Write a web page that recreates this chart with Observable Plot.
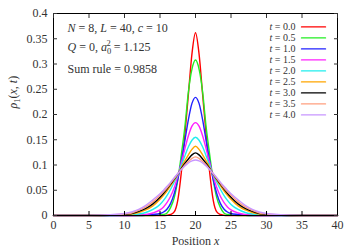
<!DOCTYPE html>
<html><head><meta charset="utf-8">
<script src="https://cdn.jsdelivr.net/npm/d3@7"></script>
<script src="https://cdn.jsdelivr.net/npm/@observablehq/plot@0.6"></script>
<style>body{margin:0;background:#fff}svg{display:block}</style>
</head><body><div id="chart"></div>
<script>
// Position grid (x) shared by all curves
const xs = [0,5,8,10,11,12,13,14,15,15.5,16,16.5,17,17.5,18,18.5,19,19.5,20,20.5,21,21.5,22,22.5,23,23.5,24,24.5,25,26,27,28,29,30,32,35,40];
// rho_1(x,t) for each time
const rho_t00 = [0,0,0,0,0,0,0,0,0,0,0.0005,0.002,0.007,0.03,0.085,0.16,0.24,0.32,0.362,0.32,0.24,0.16,0.085,0.03,0.007,0.002,0.0005,0,0,0,0,0,0,0,0,0,0];
const rho_t05 = [0,0,0,0,0,0,0,0,0.0008,0.002,0.005,0.016,0.035,0.07,0.12,0.175,0.245,0.29,0.308,0.29,0.245,0.175,0.12,0.07,0.035,0.016,0.005,0.002,0.0008,0,0,0,0,0,0,0,0];
const rho_t10 = [0,0,0,0,0,0,0.0005,0.002,0.004,0.007,0.013,0.024,0.043,0.071,0.107,0.148,0.19,0.222,0.234,0.222,0.19,0.148,0.107,0.071,0.043,0.024,0.013,0.007,0.004,0.002,0.0005,0,0,0,0,0,0];
const rho_t15 = [0,0,0,0,0,0.0005,0.002,0.005,0.011,0.017,0.026,0.038,0.055,0.078,0.104,0.132,0.158,0.177,0.184,0.177,0.158,0.132,0.104,0.078,0.055,0.038,0.026,0.017,0.011,0.005,0.002,0.0005,0,0,0,0,0];
const rho_t20 = [0,0,0,0.0003,0.001,0.003,0.006,0.012,0.022,0.03,0.04,0.052,0.066,0.08,0.099,0.118,0.136,0.149,0.155,0.149,0.136,0.118,0.099,0.08,0.066,0.052,0.04,0.03,0.022,0.012,0.006,0.003,0.001,0.0003,0,0,0];
const rho_t25 = [0,0,0.0003,0.001,0.003,0.006,0.011,0.019,0.032,0.04,0.049,0.059,0.07,0.082,0.095,0.108,0.12,0.131,0.137,0.131,0.12,0.108,0.095,0.082,0.07,0.059,0.049,0.04,0.032,0.019,0.011,0.006,0.003,0.001,0.0003,0,0];
const rho_t30 = [0,0,0.0006,0.002,0.004,0.008,0.014,0.023,0.036,0.044,0.053,0.062,0.072,0.082,0.093,0.103,0.112,0.12,0.124,0.12,0.112,0.103,0.093,0.082,0.072,0.062,0.053,0.044,0.036,0.023,0.014,0.008,0.004,0.002,0.0006,0,0];
const rho_t35 = [0,0,0.001,0.003,0.005,0.01,0.017,0.027,0.04,0.047,0.055,0.064,0.073,0.082,0.091,0.1,0.107,0.113,0.116,0.113,0.107,0.1,0.091,0.082,0.073,0.064,0.055,0.047,0.04,0.027,0.017,0.01,0.005,0.003,0.001,0,0];
const rho_t40 = [0,0.0001,0.0015,0.004,0.007,0.012,0.02,0.031,0.043,0.05,0.058,0.066,0.075,0.083,0.091,0.098,0.104,0.108,0.11,0.108,0.104,0.098,0.091,0.083,0.075,0.066,0.058,0.05,0.043,0.031,0.02,0.012,0.007,0.004,0.0015,0.0001,0];

const tValues = ["0.0","0.5","1.0","1.5","2.0","2.5","3.0","3.5","4.0"];
const seriesColors = ["#ff0000","#22ee22","#2020ff","#ff20ff","#20eeee","#ffa500","#000000","#ff9f7f","#c896ff"];
const xTicks = [0,5,10,15,20,25,30,35,40];
const yTicks = [0,0.05,0.1,0.15,0.2,0.25,0.3,0.35,0.4];
const annotationLines = ["N = 8, L = 40, c = 10", "Q = 0, a0^2 = 1.125", "Sum rule = 0.9858"];
const xLabel = "Position x";
const yLabel = "rho1(x, t)";

const allSeries = [rho_t00,rho_t05,rho_t10,rho_t15,rho_t20,rho_t25,rho_t30,rho_t35,rho_t40];

const it = s => `<tspan font-style="italic">${s}</tspan>`;
const rich = {
  [annotationLines[0]]: `${it("N")} = 8, ${it("L")} = 40, ${it("c")} = 10`,
  [annotationLines[1]]: `${it("Q")} = 0, ${it("a")}<tspan font-size="8.5" dy="3">0</tspan><tspan font-size="8.5" dx="-4.8" dy="-8.5">2</tspan><tspan dy="5.5"> = 1.125</tspan>`,
  [xLabel]: `Position ${it("x")}`,
  [yLabel]: `${it("ρ")}<tspan font-size="8.5" dy="2.5">1</tspan><tspan dy="-2.5">(</tspan>${it("x")}, ${it("t")})`
};
tValues.forEach(t => { rich["t = " + t] = `${it("t")} = ${t}`; });

const fmtY = d => String(+d.toFixed(2));
const FS = 12;
const LFS = 10;
const TXT = "#333";

const marks = [];
allSeries.forEach((s, i) => {
  const data = xs.map((x, j) => ({x, y: s[j]}));
  marks.push(Plot.line(data, {x: "x", y: "y", stroke: seriesColors[i], strokeWidth: 1.4, curve: "monotone-x"}));
});
marks.push(Plot.frame({stroke: "black", strokeWidth: 1}));
marks.push(Plot.axisX({ticks: xTicks, anchor: "bottom", tickSize: -4, tickPadding: 9, tickFormat: d => String(d), label: null, fontSize: FS, fill: TXT, stroke: "black"}));
marks.push(Plot.axisX({ticks: xTicks, anchor: "top", tickSize: -4, tickFormat: () => "", label: null}));
marks.push(Plot.axisY({ticks: yTicks, anchor: "left", tickSize: -4, tickPadding: 10, tickFormat: fmtY, label: null, fontSize: FS, fill: TXT}));
marks.push(Plot.axisY({ticks: yTicks, anchor: "right", tickSize: -4, tickFormat: () => "", label: null}));
// annotations
annotationLines.forEach((a, i) => {
  marks.push(Plot.text([a], {text: d => d, frameAnchor: "top-left", textAnchor: "start", lineAnchor: "middle", dx: 14, dy: [14.7, 33.7, 55.3][i], fontSize: FS, fill: TXT}));
});
// legend
tValues.forEach((t, i) => {
  const dy = 13.4 + i * 11;
  marks.push(Plot.text(["t = " + t], {text: d => d, frameAnchor: "top-right", textAnchor: "end", lineAnchor: "middle", dx: -42, dy, fontSize: LFS, fill: TXT}));
  marks.push(Plot.vector([0], {frameAnchor: "top-right", dx: -36, dy, length: 24, rotate: 90, anchor: "start", stroke: seriesColors[i], strokeWidth: 1.4,
    shape: {draw(ctx, l) { ctx.moveTo(0, 0); ctx.lineTo(0, -l); }}}));
});
// axis labels
marks.push(Plot.text([xLabel], {text: d => d, frameAnchor: "bottom", lineAnchor: "middle", dy: 26, fontSize: FS, fill: TXT}));
marks.push(Plot.text([yLabel], {text: d => d, frameAnchor: "left", lineAnchor: "middle", rotate: -90, dx: -40, dy: -6, fontSize: FS, fill: TXT}));

const chart = Plot.plot({
  width: 357, height: 250,
  marginLeft: 53, marginRight: 20, marginTop: 13, marginBottom: 35,
  x: {domain: [0, 40], axis: null},
  y: {domain: [0, 0.4], axis: null},
  style: {fontFamily: "'Liberation Serif', 'DejaVu Serif', serif", fontSize: FS + "px", background: "#fff", color: TXT},
  marks
});
chart.querySelectorAll("text").forEach(el => {
  const k = el.textContent;
  if (rich[k]) el.innerHTML = rich[k];
});
document.getElementById("chart").appendChild(chart);
</script></body></html>
